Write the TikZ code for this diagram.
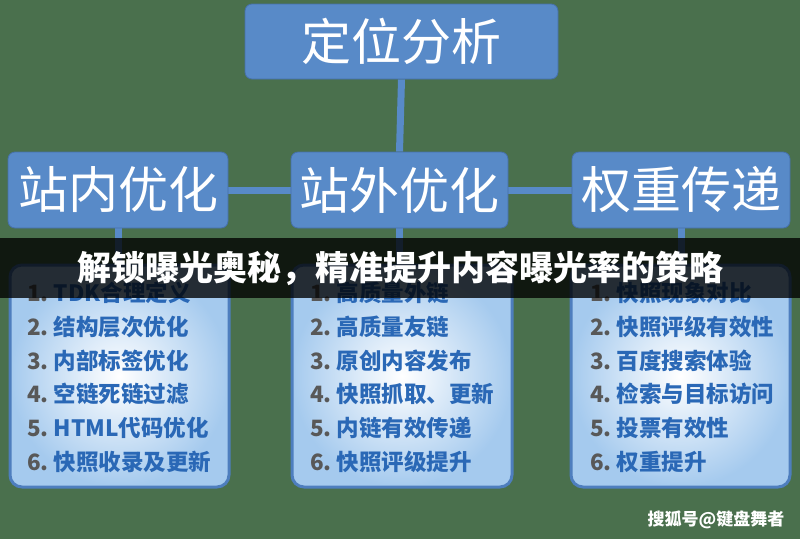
\documentclass[tikz,border=0pt]{standalone}
\usepackage{fontspec}
\newfontfamily\cjk{Noto Sans CJK SC}
\definecolor{bg}{RGB}{74,112,77}
\definecolor{boxblue}{RGB}{88,138,200}
\definecolor{boxedge}{RGB}{70,112,170}
\definecolor{listedge}{RGB}{78,126,190}
\definecolor{listout}{RGB}{165,202,238}
\definecolor{numgray}{RGB}{88,88,88}
\definecolor{txtblue}{RGB}{42,104,182}
\pgfdeclarelayer{back}
\pgfdeclarelayer{front}
\pgfsetlayers{back,main,front}
\tikzset{
  headbox/.style={fill=boxblue, draw=boxedge, line width=0.8pt, rounded corners=7pt,
    text=white, font=\cjk\fontsize{50}{58}\selectfont, inner sep=0pt, minimum height=76pt},
  listbox/.style={draw=listedge, line width=3pt, rounded corners=12pt,
    inner color=white, outer color=listout, minimum width=219pt, minimum height=222pt},
  link/.style={draw=boxblue, line width=7pt},
  item/.style={anchor=west, font=\cjk\bfseries\fontsize{22.5}{26}\selectfont, inner sep=0pt},
}
\newcommand{\li}[2]{{\color{numgray}#1}\hspace{5pt}{\color{txtblue}#2}}
\begin{document}
\begin{tikzpicture}[x=1pt,y=-1pt]
\begin{pgfonlayer}{back}
\fill[bg] (0,0) rectangle (800,539);
\end{pgfonlayer}
\useasboundingbox (0,0) rectangle (800,539);

% list boxes
\node[listbox] (la) at (119.5,376) {};
\node[listbox, minimum width=220pt] (lb) at (402,376) {};
\node[listbox] (lc) at (680.5,376) {};

% head boxes
\node[headbox, minimum width=313pt, minimum height=75pt] (top) at (401.5,41.5) {定位分析};
\node[headbox, minimum width=220pt] (a) at (118,190) {站内优化};
\node[headbox, minimum width=217pt] (b) at (399.5,190) {站外优化};
\node[headbox, minimum width=218pt] (c) at (681,190) {权重传递};

% connectors (behind the boxes)
\begin{pgfonlayer}{back}
\draw[link] (top.south) -- (b.north);
\draw[link] (a.east) -- (b.west);
\draw[link] (b.east) -- (c.west);
\draw[link] (a.south) -- (a.south |- la.north);
\draw[link] (b.south) -- (b.south |- lb.north);
\draw[link] (c.south) -- (c.south |- lc.north);
\end{pgfonlayer}

% list items
\foreach \n/\t [count=\i] in {1./TDK合理定义, 2./结构层次优化, 3./内部标签优化, 4./空链死链过滤, 5./HTML代码优化, 6./快照收录及更新}
  \node[item] (la\i) at (27, 259+\i*33.8) {\li{\n}{\t}};
\foreach \n/\t [count=\i] in {1./高质量外链, 2./高质量友链, 3./原创内容发布, 4./快照抓取、更新, 5./内链有效传递, 6./快照评级提升}
  \node[item] (lb\i) at (310, 259+\i*33.8) {\li{\n}{\t}};
\foreach \n/\t [count=\i] in {1./快照现象对比, 2./快照评级有效性, 3./百度搜索体验, 4./检索与目标访问, 5./投票有效性, 6./权重提升}
  \node[item] (lc\i) at (590, 259+\i*33.8) {\li{\n}{\t}};

% banner
\begin{pgfonlayer}{front}
\fill[black, opacity=0.78] (0,238) rectangle (800,298);
\node[text=white, font=\cjk\bfseries\fontsize{34}{40}\selectfont, inner sep=0pt] (title) at (400,268) {解锁曝光奥秘，精准提升内容曝光率的策略};
\end{pgfonlayer}

% watermark
\node[text=white, font=\cjk\bfseries\fontsize{17}{20}\selectfont, inner sep=0pt] (wm) at (716,520) {搜狐号@键盘舞者};
\end{tikzpicture}
\end{document}
